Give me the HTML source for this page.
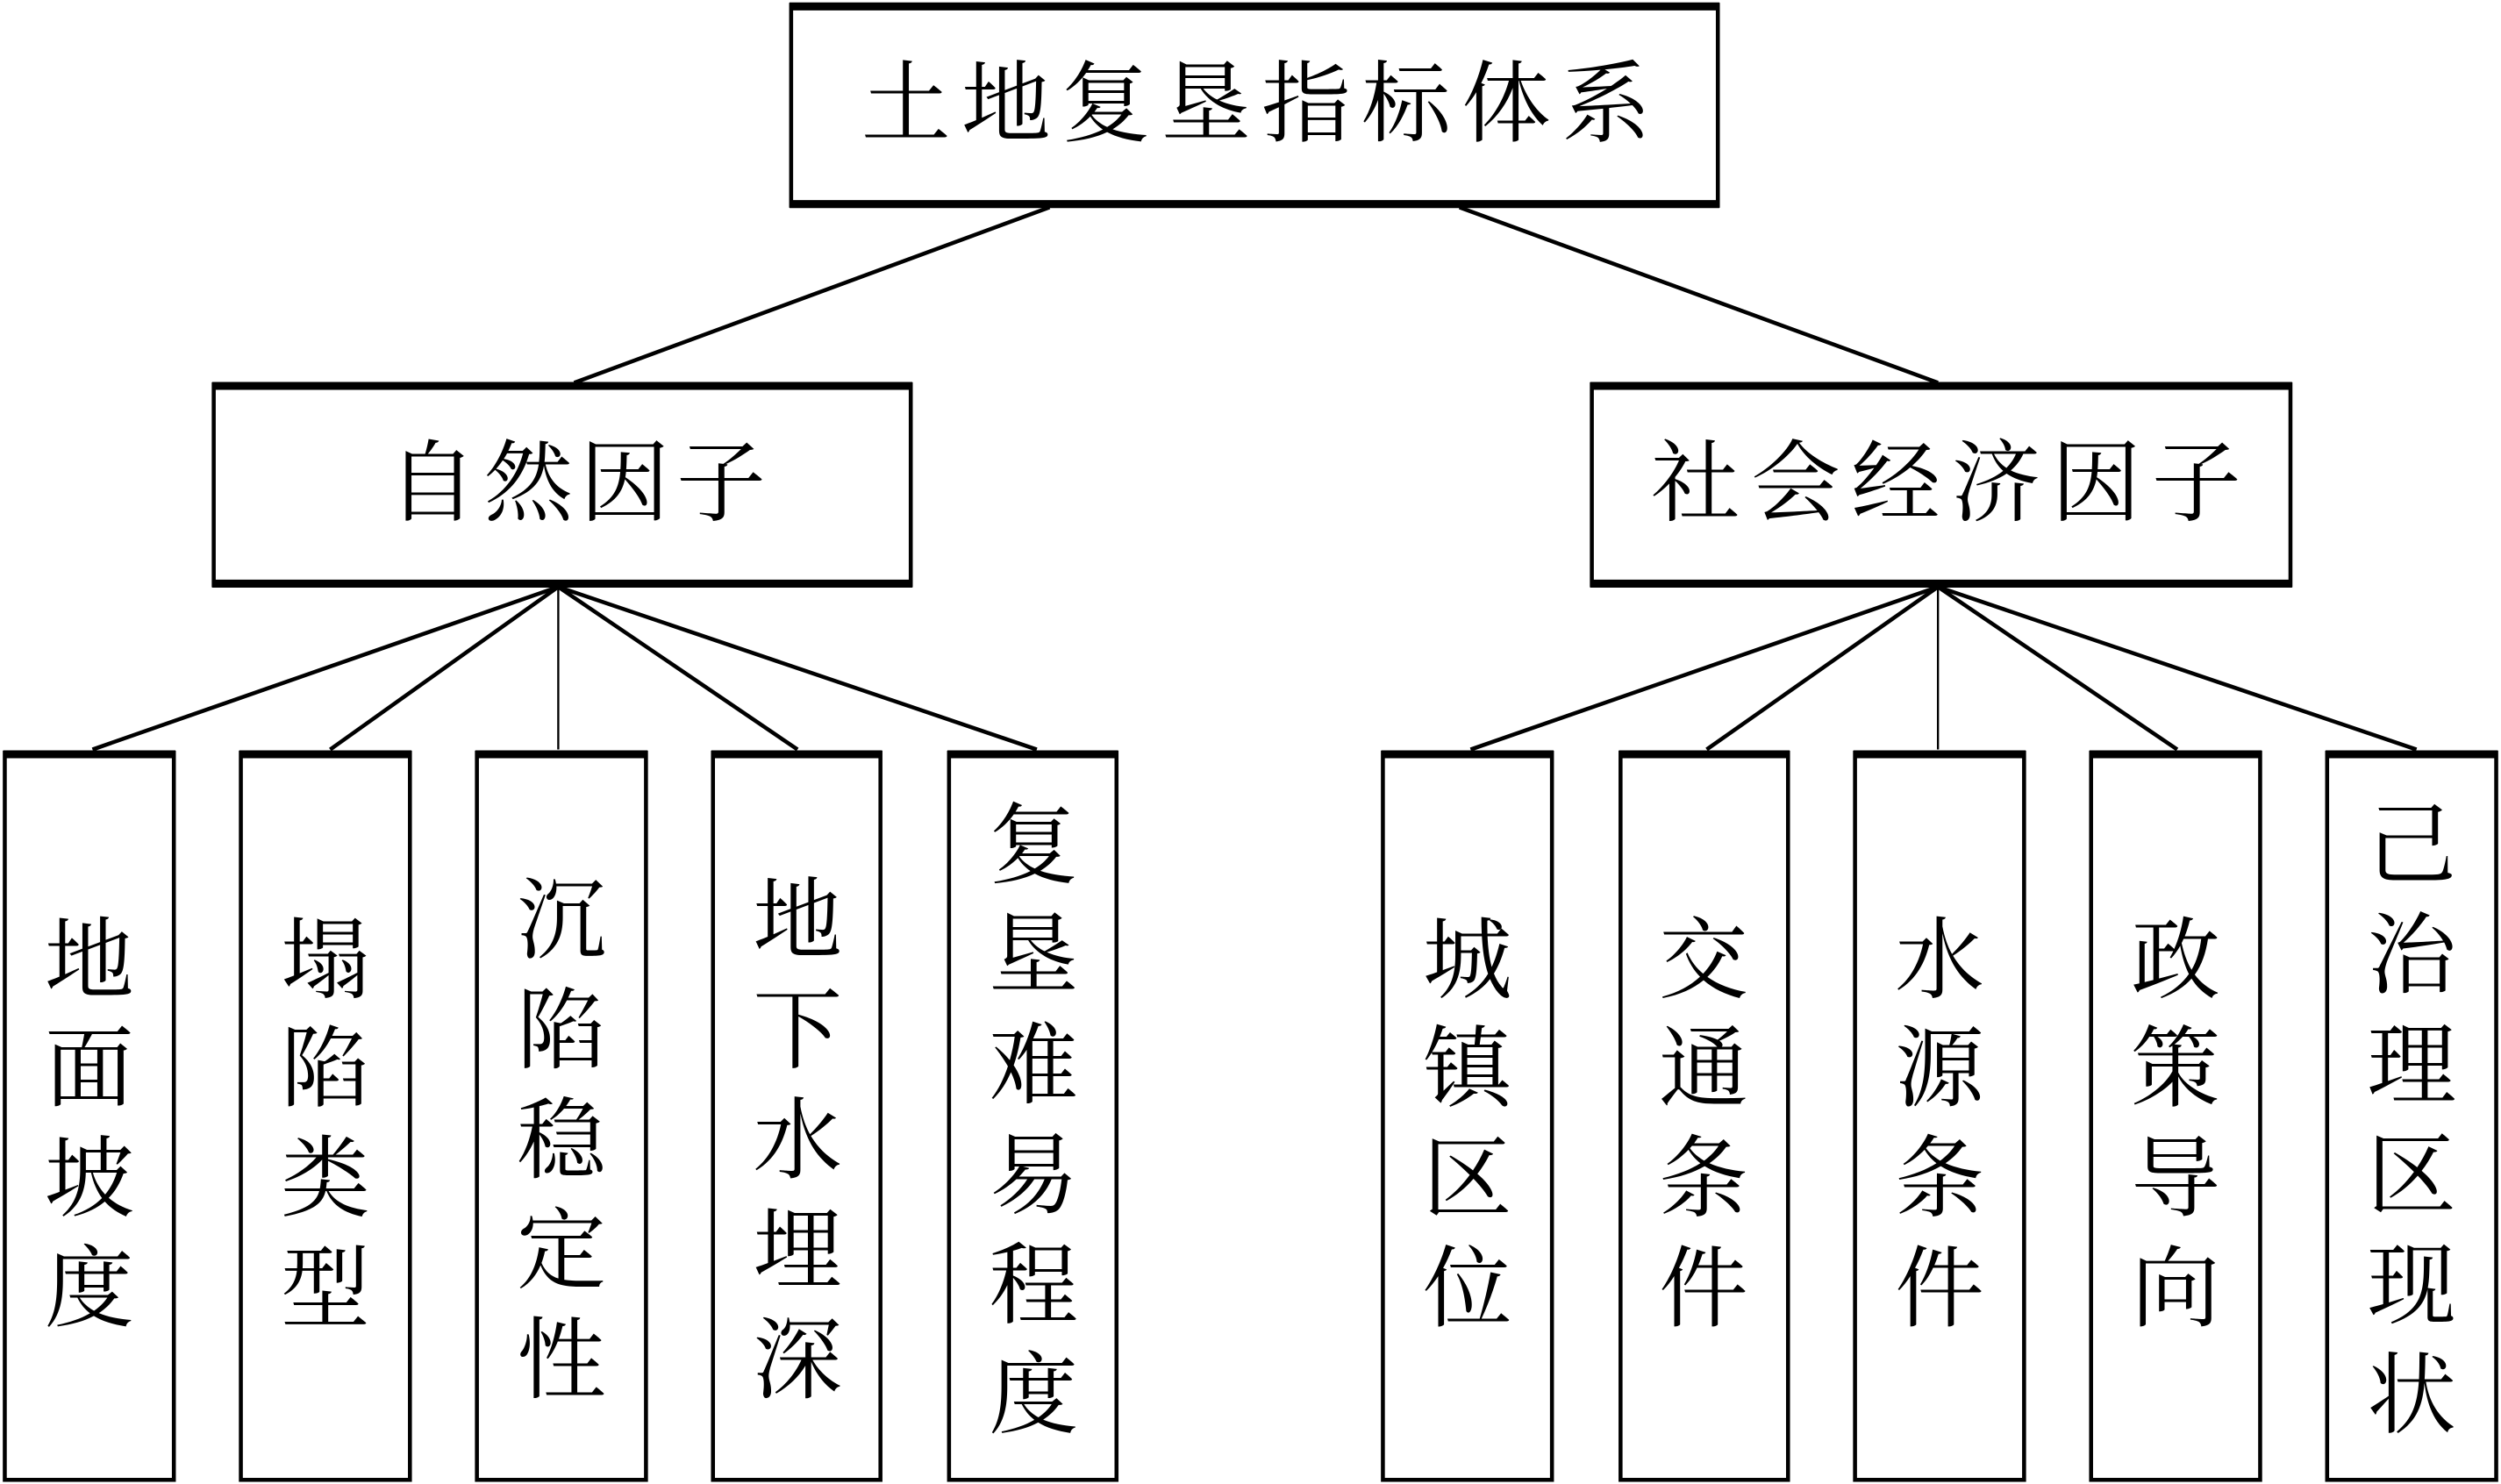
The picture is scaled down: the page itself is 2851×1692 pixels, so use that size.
<!DOCTYPE html>
<html><head><meta charset="utf-8"><style>
html,body{margin:0;padding:0;background:#fff;}
svg{display:block;}
text{font-family:"Liberation Serif","Noto Serif CJK SC","Noto Sans CJK SC",serif;fill:#000;}
</style></head><body>
<svg width="2851" height="1692" viewBox="0 0 1568 930.6" preserveAspectRatio="none" xmlns="http://www.w3.org/2000/svg">
<g stroke="#000" fill="none">
 <!-- connectors -->
 <g stroke-width="2.5">
  <line x1="658" y1="130" x2="360" y2="240"/>
  <line x1="915" y1="130" x2="1215" y2="240"/>
  <line x1="350" y1="368" x2="58" y2="470"/>
  <line x1="350" y1="368" x2="207" y2="470"/>
  <line x1="350" y1="368" x2="500" y2="470"/>
  <line x1="350" y1="368" x2="650" y2="470"/>
  <line x1="1215" y1="368" x2="922" y2="470"/>
  <line x1="1215" y1="368" x2="1070" y2="470"/>
  <line x1="1215" y1="368" x2="1365" y2="470"/>
  <line x1="1215" y1="368" x2="1515" y2="470"/>
 </g>
 <line x1="350" y1="368" x2="350" y2="470" stroke-width="1.3"/>
 <line x1="1215" y1="368" x2="1215" y2="470" stroke-width="1.3"/>
 <!-- boxes -->
 <g stroke-width="2.5" fill="#fff">
  <rect x="496" y="3" width="581" height="126"/>
  <rect x="134" y="241" width="437" height="126"/>
  <rect x="998" y="241" width="438" height="126"/>
  <rect x="3" y="472" width="106" height="456"/>
  <rect x="151" y="472" width="106" height="456"/>
  <rect x="299" y="472" width="106" height="456"/>
  <rect x="447" y="472" width="105" height="456"/>
  <rect x="595" y="472" width="105" height="456"/>
  <rect x="867" y="472" width="106" height="456"/>
  <rect x="1016" y="472" width="105" height="456"/>
  <rect x="1163" y="472" width="106" height="456"/>
  <rect x="1311" y="472" width="106" height="456"/>
  <rect x="1459" y="472" width="106" height="456"/>
 </g>
 <g stroke-width="5">
  <line x1="495" y1="4" x2="1078" y2="4"/><line x1="495" y1="128" x2="1078" y2="128"/>
  <line x1="133" y1="242" x2="572" y2="242"/><line x1="133" y1="366" x2="572" y2="366"/>
  <line x1="997" y1="242" x2="1437" y2="242"/><line x1="997" y1="366" x2="1437" y2="366"/>
  <line x1="2" y1="473" x2="110" y2="473"/><line x1="150" y1="473" x2="258" y2="473"/>
  <line x1="298" y1="473" x2="406" y2="473"/><line x1="446" y1="473" x2="553" y2="473"/>
  <line x1="594" y1="473" x2="701" y2="473"/><line x1="866" y1="473" x2="974" y2="473"/>
  <line x1="1015" y1="473" x2="1122" y2="473"/><line x1="1162" y1="473" x2="1270" y2="473"/>
  <line x1="1310" y1="473" x2="1418" y2="473"/><line x1="1458" y1="473" x2="1566" y2="473"/>
 </g>
</g>
<g font-size="56" dominant-baseline="central">
 <text x="540" y="66" textLength="495" lengthAdjust="spacing">土地复垦指标体系</text>
 <text x="243" y="304" textLength="237" lengthAdjust="spacing">自然因子</text>
 <text x="1035" y="304" textLength="370" lengthAdjust="spacing">社会经济因子</text>
</g>
<g font-size="56" text-anchor="middle" dominant-baseline="central">
 <text x="56" y="603">地</text><text x="56" y="671">面</text><text x="56" y="740">坡</text><text x="56" y="809">度</text>
 <text x="204" y="603">塌</text><text x="204" y="671">陷</text><text x="204" y="740">类</text><text x="204" y="809">型</text>
 <text x="352" y="578">沉</text><text x="352" y="647">陷</text><text x="352" y="716">稳</text><text x="352" y="785">定</text><text x="352" y="854">性</text>
 <text x="500" y="578">地</text><text x="500" y="647">下</text><text x="500" y="716">水</text><text x="500" y="785">埋</text><text x="500" y="854">深</text>
 <text x="648" y="531">复</text><text x="648" y="600">垦</text><text x="648" y="669">难</text><text x="648" y="738">易</text><text x="648" y="807">程</text><text x="648" y="876">度</text>
 <text x="920" y="603">城</text><text x="920" y="671">镇</text><text x="920" y="740">区</text><text x="920" y="809">位</text>
 <text x="1068" y="603">交</text><text x="1068" y="671">通</text><text x="1068" y="740">条</text><text x="1068" y="809">件</text>
 <text x="1216" y="603">水</text><text x="1216" y="671">源</text><text x="1216" y="740">条</text><text x="1216" y="809">件</text>
 <text x="1364" y="603">政</text><text x="1364" y="671">策</text><text x="1364" y="740">导</text><text x="1364" y="809">向</text>
 <text x="1512" y="531">己</text><text x="1512" y="600">治</text><text x="1512" y="669">理</text><text x="1512" y="738">区</text><text x="1512" y="807">现</text><text x="1512" y="876">状</text>
</g>
</svg>
</body></html>
